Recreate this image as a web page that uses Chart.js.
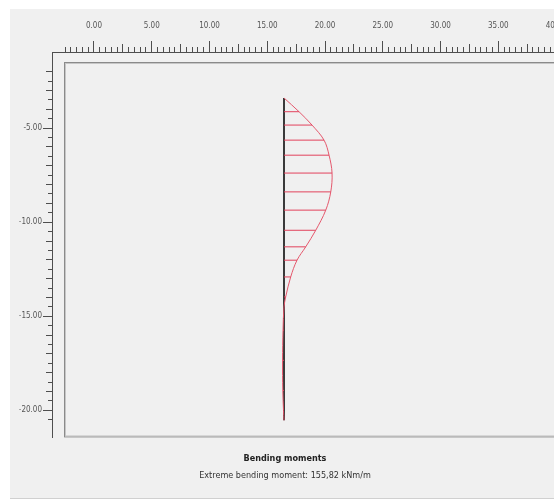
<!DOCTYPE html>
<html>
<head>
<meta charset="utf-8">
<script src="https://cdn.jsdelivr.net/npm/chart.js@4.4.0/dist/chart.umd.min.js"></script>
<style>
  html, body { margin: 0; padding: 0; background: #fff; overflow: hidden; }
  /* the reference view is cut off on the right, so the chart is a bit wider than the window */
  #wrap { width: 570px; height: 501px; }
</style>
</head>
<body>
<div id="wrap"><canvas id="momentChart"></canvas></div>
<script>
// Plate nodes: depth (m) and bending moment at that node (kNm/m)
const depths  = [-3.40, -4.13, -4.84, -5.64, -6.44, -7.39, -8.39, -9.36, -10.43, -11.31, -12.02, -12.91, -13.97, -14.51, -15.74, -17.34, -18.94, -20.00, -20.53];
const moments = [0, 48.7, 90.9, 129.8, 146.1, 155.82, 151.6, 135.4, 102.9, 70.4, 42.2, 21.7, 5.5, 0, -3.2, -4.8, -4.0, -1.6, 0];

// Plate position in the geometry
const wallX = 16.45;
const wallTop = -3.40;
const wallBottom = -20.53;

// Ruler labels
const xTickLabels = [0, 5, 10, 15, 20, 25, 30, 35, 40];
const yTickLabels = [-5, -10, -15, -20];

const extremeMoment = 155.82;
// width of the diagram (geometry units) at the extreme moment
const momentScale = 4.16 / extremeMoment;

// visible geometry window
const X_MIN = -3.636, X_MAX = 41.21;
const Y_MIN = -21.436, Y_MAX = -0.957;

const RULER_SIZE = 52;
const rulerColor = '#4e4e4e';
const tickFont = { family: '"Liberation Sans Narrow", "DejaVu Sans Condensed", "Liberation Sans", sans-serif', size: 8 };

function clearPadding(scale) {
    scale.paddingLeft = scale.paddingRight = scale.paddingTop = scale.paddingBottom = 0;
}

// labelled rulers get a fixed band, the extra tick rows take no room
function fixedBand(scale) {
    if (scale.isHorizontal()) scale.height = RULER_SIZE;
    else scale.width = RULER_SIZE;
    clearPadding(scale);
}

function flat(scale) {
    if (scale.isHorizontal()) scale.height = 0;
    else scale.width = 0;
    clearPadding(scale);
}

function isMultiple(v, step) {
    return Math.abs(v / step - Math.round(v / step)) < 1e-6;
}

function rulerAxis(horizontal, step, len) {
    return {
        type: 'linear',
        position: horizontal ? 'top' : 'left',
        weight: 0,
        min: horizontal ? X_MIN : Y_MIN,
        max: horizontal ? X_MAX : Y_MAX,
        afterBuildTicks: function(scale) {
            scale.ticks = scale.ticks.filter(t => isMultiple(t.value, step) &&
                (horizontal ? t.value >= -2.5 - 1e-6 : t.value <= -2 + 1e-6));
        },
        afterFit: flat,
        grid: { drawOnChartArea: false, tickLength: len, color: rulerColor, tickColor: rulerColor },
        border: { display: false },
        ticks: { stepSize: step, display: false, autoSkip: false }
    };
}

// hatch lines from the plate to the diagram at each node
const hatch = [];
depths.forEach((d, i) => {
    if (moments[i] === 0) return;
    hatch.push({ x: wallX, y: d });
    hatch.push({ x: wallX + moments[i] * momentScale, y: d });
    hatch.push({ x: wallX, y: null });
});

const curve = depths.map((d, i) => ({ x: wallX + moments[i] * momentScale, y: d }));

const panel = {
    id: 'panel',
    beforeDraw(chart) {
        const ctx = chart.ctx, a = chart.chartArea;
        ctx.save();
        ctx.fillStyle = '#ffffff';
        ctx.fillRect(0, 0, chart.width, chart.height);
        ctx.fillStyle = '#f0f0f0';
        ctx.fillRect(10, 9, chart.width - 10, 489);
        ctx.strokeStyle = '#d0d0d0';
        ctx.lineWidth = 1;
        ctx.beginPath();
        ctx.moveTo(10, 498.5);
        ctx.lineTo(chart.width, 498.5);
        ctx.stroke();
        // plot frame, set in from the rulers
        const fl = a.left + 12, ft = a.top + 10, fr = a.right - 4, fb = a.bottom;
        ctx.strokeStyle = '#8a8a8a';
        ctx.strokeRect(fl + 0.5, ft + 0.5, fr - fl, fb - ft - 1);
        ctx.strokeStyle = '#c6c6c6';
        ctx.strokeRect(fl + 1.5, ft + 1.5, fr - fl - 2, fb - ft - 3);
        ctx.restore();
    }
};

const chart = new Chart(document.getElementById('momentChart'), {
    type: 'scatter',
    data: {
        datasets: [
            {
                label: 'hatch',
                data: hatch,
                showLine: true,
                spanGaps: false,
                borderColor: '#e2425c',
                borderWidth: 1,
                pointRadius: 0
            },
            {
                label: 'Bending moments',
                data: curve,
                showLine: true,
                tension: 0.35,
                borderColor: '#e5586d',
                borderWidth: 1,
                pointRadius: 0
            },
            {
                label: 'plate',
                data: [{ x: wallX, y: wallTop }, { x: wallX, y: wallBottom }],
                showLine: true,
                borderColor: '#3a3a3a',
                borderWidth: 2,
                pointRadius: 0
            }
        ]
    },
    options: {
        responsive: true,
        maintainAspectRatio: false,
        animation: false,
        layout: { padding: { left: 0, top: 0, right: 0, bottom: 20 } },
        plugins: {
            legend: { display: false },
            tooltip: { enabled: false },
            title: {
                display: true,
                text: 'Bending moments',
                position: 'bottom',
                weight: 1000,
                color: '#222',
                font: { family: tickFont.family, size: 9, weight: 'bold' },
                padding: { top: 16, bottom: 2 }
            },
            subtitle: {
                display: true,
                text: 'Extreme bending moment: 155,82 kNm/m',
                position: 'bottom',
                color: '#333',
                font: { family: tickFont.family, size: 9 },
                padding: { top: 4, bottom: 0 }
            }
        },
        scales: {
            x: {
                type: 'linear',
                position: 'top',
                weight: 1,
                min: X_MIN,
                max: X_MAX,
                afterBuildTicks: function(scale) {
                    scale.ticks = xTickLabels.map(v => ({ value: v }));
                },
                afterFit: fixedBand,
                grid: { drawOnChartArea: false, tickLength: 11, color: rulerColor, tickColor: rulerColor },
                border: { display: true, color: rulerColor, width: 1 },
                ticks: {
                    font: tickFont,
                    color: '#555',
                    padding: 10,
                    maxRotation: 0,
                    autoSkip: false,
                    callback: v => v.toFixed(2)
                }
            },
            xMid: rulerAxis(true, 2.5, 8),
            xMinor: rulerAxis(true, 0.5, 5),
            y: {
                type: 'linear',
                position: 'left',
                weight: 1,
                min: Y_MIN,
                max: Y_MAX,
                afterBuildTicks: function(scale) {
                    scale.ticks = yTickLabels.map(v => ({ value: v }));
                },
                afterFit: fixedBand,
                grid: { drawOnChartArea: false, tickLength: 9, color: rulerColor, tickColor: rulerColor },
                border: { display: true, color: rulerColor, width: 1 },
                ticks: {
                    font: tickFont,
                    color: '#555',
                    padding: 1,
                    autoSkip: false,
                    callback: v => v.toFixed(2)
                }
            },
            yMid: rulerAxis(false, 1, 6),
            yMinor: rulerAxis(false, 0.5, 4)
        }
    },
    plugins: [panel]
});
</script>
</body>
</html>
